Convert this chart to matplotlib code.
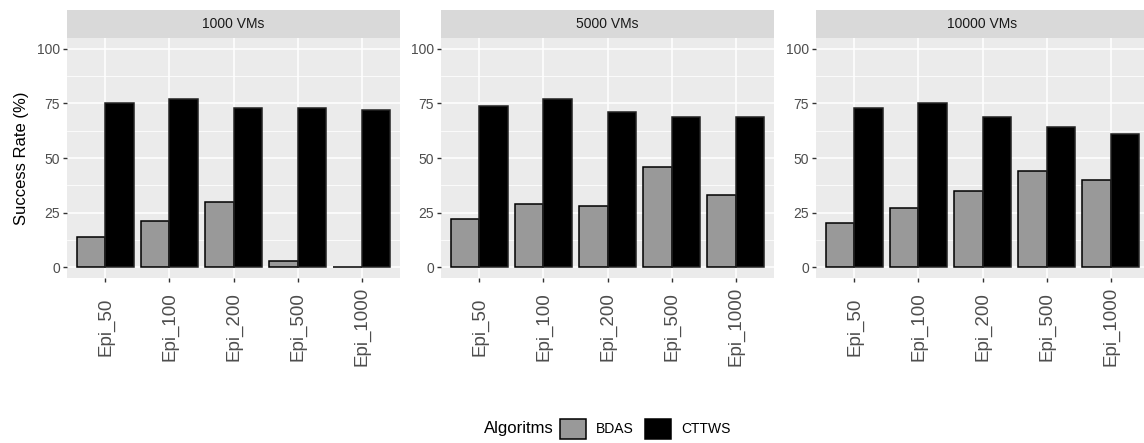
import matplotlib
matplotlib.use("Agg")
import matplotlib.pyplot as plt
from matplotlib.patches import Patch
import numpy as np

plt.rcParams['font.family'] = ['Liberation Sans', 'DejaVu Sans']

categories = ["Epi_50", "Epi_100", "Epi_200", "Epi_500", "Epi_1000"]
panels = ["1000 VMs", "5000 VMs", "10000 VMs"]
bdas = [
    [14, 21, 30, 3, 0],
    [22, 29, 28, 46, 33],
    [20, 27, 35, 44, 40],
]
cttws = [
    [75, 77, 73, 73, 72],
    [74, 77, 71, 69, 69],
    [73, 75, 69, 64, 61],
]
series_names = ["BDAS", "CTTWS"]
y_ticks = [0, 25, 50, 75, 100]

W, H = 1144, 443
fig = plt.figure(figsize=(W / 100, H / 100), dpi=100)

panel_lefts = [67, 441, 816]
panel_w = 333
panel_top, panel_bot = 38, 278
strip_top = 10

col_bdas = "#999999"
col_cttws = "#000000"
tick_col = "#4D4D4D"

x = np.arange(1, len(categories) + 1)
bw = 0.45

for i, name in enumerate(panels):
    l = panel_lefts[i]
    ax = fig.add_axes([l / W, 1 - panel_bot / H, panel_w / W, (panel_bot - panel_top) / H])
    ax.set_facecolor("#EBEBEB")
    ax.bar(x - bw / 2, bdas[i], width=bw, color=col_bdas, edgecolor="black", linewidth=1.1, zorder=3)
    ax.bar(x + bw / 2, cttws[i], width=bw, color=col_cttws, edgecolor="#222222", linewidth=1.1, zorder=3)
    ax.set_xlim(0.4, 5.6)
    ax.set_ylim(-5, 105)
    ax.set_yticks(y_ticks)
    ax.set_yticks([12.5, 37.5, 62.5, 87.5], minor=True)
    ax.set_xticks(x, categories, rotation=90)
    for lbl in ax.get_xticklabels():
        lbl.set_verticalalignment("center")
    ax.tick_params(axis="x", pad=32, length=3, width=1, color="#333333",
                   labelsize=13.5, labelcolor=tick_col)
    ax.tick_params(axis="y", which="major", pad=2, length=3, width=1, color="#333333",
                   labelsize=10, labelcolor=tick_col)
    ax.tick_params(axis="y", which="minor", length=0)
    ax.grid(True, which="major", color="white", linewidth=1.1, zorder=0)
    ax.grid(True, which="minor", axis="y", color="white", linewidth=0.55, zorder=0)
    ax.set_axisbelow(True)
    for s in ax.spines.values():
        s.set_visible(False)
    # strip
    sax = fig.add_axes([l / W, 1 - panel_top / H, panel_w / W, (panel_top - strip_top) / H])
    sax.set_facecolor("#D9D9D9")
    sax.set_xticks([])
    sax.set_yticks([])
    for s in sax.spines.values():
        s.set_visible(False)
    sax.text(0.5, 0.5, name, transform=sax.transAxes, ha="center", va="center",
             fontsize=10, color="#1A1A1A")
    if i == 0:
        ax.set_ylabel("Success Rate (%)", fontsize=12, labelpad=6)

fig.text(554 / W, 1 - 429 / H, "Algoritms", ha="right", va="center", fontsize=12)
handles = [Patch(facecolor=col_bdas, edgecolor="black", linewidth=1.1),
           Patch(facecolor=col_cttws, edgecolor="black", linewidth=1.1)]
fig.legend(handles, series_names, loc="center left", bbox_to_anchor=(560 / W, 1 - 429 / H),
           ncol=2, frameon=False, fontsize=10, handlelength=1.9, handleheight=1.9,
           handletextpad=0.7, columnspacing=0.8, borderpad=0, borderaxespad=0)

fig.savefig("out.png", dpi=100)
